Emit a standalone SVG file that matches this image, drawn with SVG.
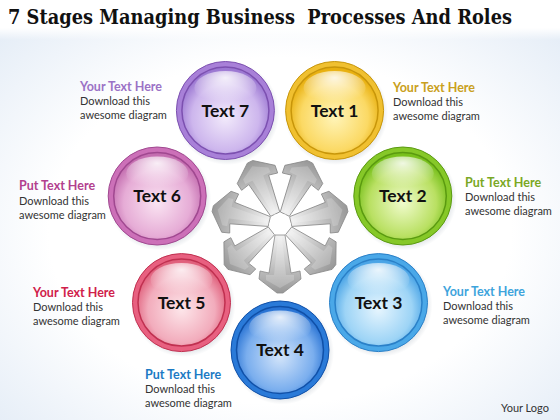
<svg xmlns="http://www.w3.org/2000/svg" xmlns:xlink="http://www.w3.org/1999/xlink" width="560" height="420" viewBox="0 0 560 420">
<defs>
<style>
.title{font-family:"DejaVu Serif","Liberation Serif",serif;font-weight:bold;font-size:16px;fill:#111}
.ct{font-family:Lato,"Liberation Sans",sans-serif;font-weight:bold;font-size:17.5px;fill:#111;text-anchor:middle}
.hd{font-family:Lato,"Liberation Sans",sans-serif;font-weight:bold;font-size:12.5px}
.bd{font-family:Lato,"Liberation Sans",sans-serif;font-size:11px;fill:#333}
.logo{font-family:Lato,"Liberation Sans",sans-serif;font-size:11px;fill:#333}
</style>
<radialGradient id="bg" cx="50%" cy="55%" r="75%">
<stop offset="0.55" stop-color="#ffffff"/>
<stop offset="1" stop-color="#dfe9f5"/>
</radialGradient>
<linearGradient id="titlefade" x1="0" y1="0" x2="0" y2="1">
<stop offset="0.7" stop-color="#ffffff" stop-opacity="1"/>
<stop offset="1" stop-color="#ffffff" stop-opacity="0"/>
</linearGradient>
<radialGradient id="gloss" cx="50%" cy="20%" r="70%">
<stop offset="0" stop-color="#ffffff" stop-opacity="0.85"/>
<stop offset="1" stop-color="#ffffff" stop-opacity="0"/>
</radialGradient>
<radialGradient id="shadow" cx="50%" cy="50%" r="50%">
<stop offset="0.8" stop-color="#8090a0" stop-opacity="0.35"/>
<stop offset="1" stop-color="#8090a0" stop-opacity="0"/>
</radialGradient>
<linearGradient id="arrg" x1="0" y1="0" x2="1" y2="0">
<stop offset="0" stop-color="#f2f2f2"/>
<stop offset="0.5" stop-color="#c6c6c6"/>
<stop offset="1" stop-color="#989898"/>
</linearGradient>
<radialGradient id="g1" cx="50%" cy="58%" r="55%"><stop offset="0" stop-color="#fff4b8"/><stop offset="0.7" stop-color="#fbd964"/><stop offset="1" stop-color="#e8b010"/></radialGradient>
<radialGradient id="g2" cx="50%" cy="58%" r="55%"><stop offset="0" stop-color="#f0fbcc"/><stop offset="0.7" stop-color="#b9e062"/><stop offset="1" stop-color="#78c01c"/></radialGradient>
<radialGradient id="g3" cx="50%" cy="58%" r="55%"><stop offset="0" stop-color="#e6f5fe"/><stop offset="0.7" stop-color="#9dd4f6"/><stop offset="1" stop-color="#4aa4e6"/></radialGradient>
<radialGradient id="g4" cx="50%" cy="58%" r="55%"><stop offset="0" stop-color="#d2e4fa"/><stop offset="0.7" stop-color="#7aaeee"/><stop offset="1" stop-color="#2a74d4"/></radialGradient>
<radialGradient id="g5" cx="50%" cy="58%" r="55%"><stop offset="0" stop-color="#fde6ea"/><stop offset="0.7" stop-color="#f2acbc"/><stop offset="1" stop-color="#e0607c"/></radialGradient>
<radialGradient id="g6" cx="50%" cy="58%" r="55%"><stop offset="0" stop-color="#fae4f2"/><stop offset="0.7" stop-color="#e6acd6"/><stop offset="1" stop-color="#c46eb0"/></radialGradient>
<radialGradient id="g7" cx="50%" cy="58%" r="55%"><stop offset="0" stop-color="#f2eafb"/><stop offset="0.7" stop-color="#cdb6ed"/><stop offset="1" stop-color="#9c78d2"/></radialGradient>
<g id="arr">
<polygon points="11,-5 49,-11 47,-20 55,-21 69,-3 69,3 55,21 47,20 49,11 11,5" fill="url(#arrg)" stroke="#8a8a8a" stroke-width="0.8" stroke-linejoin="round"/>
<polygon points="13,-2 51,-6 51,-14 56,-14 64,0 56,14 51,14 51,6 13,2" fill="#ffffff" fill-opacity="0.2"/>
</g>
</defs>

<rect width="560" height="420" fill="url(#bg)"/>
<rect width="560" height="40" fill="url(#titlefade)"/>
<text class="title" transform="translate(8,24) scale(1,1.22)" x="0" y="0" textLength="504" lengthAdjust="spacingAndGlyphs" xml:space="preserve">7 Stages Managing Business  Processes And Roles</text>

<g id="connectors">
<use xlink:href="#arr" transform="translate(280,224) rotate(90)"/>
<use xlink:href="#arr" transform="translate(280,224) rotate(38.57)"/>
<use xlink:href="#arr" transform="translate(280,224) rotate(-12.86)"/>
<use xlink:href="#arr" transform="translate(280,224) rotate(-64.29)"/>
<use xlink:href="#arr" transform="translate(280,224) rotate(-115.71)"/>
<use xlink:href="#arr" transform="translate(280,224) rotate(-167.14)"/>
<use xlink:href="#arr" transform="translate(280,224) rotate(141.43)"/>
<polygon points="291,224 285.5,233.5 274.5,233.5 269,224 274.5,214.5 285.5,214.5" fill="#ffffff"/>
</g>

<g id="node1">
<ellipse cx="336" cy="113" rx="52" ry="52" fill="url(#shadow)"/>
<circle cx="334.6" cy="110.5" r="49" fill="#f0c030" stroke="#c8960a"/>
<circle cx="334.6" cy="110.5" r="43.5" fill="url(#g1)" stroke="#c8960a" stroke-width="1.5"/>
<ellipse cx="334.6" cy="88" rx="31" ry="17" fill="url(#gloss)"/>
<text class="ct" x="334.6" y="116.5">Text 1</text>
<text class="hd" x="393" y="92" fill="#c9a020">Your Text Here</text>
<text class="bd" x="393" y="106">Download this</text>
<text class="bd" x="393" y="120">awesome diagram</text>
</g>

<g id="node2">
<ellipse cx="404.8" cy="198.5" rx="52" ry="52" fill="url(#shadow)"/>
<circle cx="402.8" cy="196" r="49" fill="#86c828" stroke="#5a9a10"/>
<circle cx="402.8" cy="196" r="43.5" fill="url(#g2)" stroke="#5a9a10" stroke-width="1.5"/>
<ellipse cx="402.8" cy="173.5" rx="31" ry="17" fill="url(#gloss)"/>
<text class="ct" x="402.8" y="202">Text 2</text>
<text class="hd" x="465" y="187" fill="#7aa824">Put Text Here</text>
<text class="bd" x="465" y="201">Download this</text>
<text class="bd" x="465" y="215">awesome diagram</text>
</g>

<g id="node3">
<ellipse cx="380.5" cy="305" rx="52" ry="52" fill="url(#shadow)"/>
<circle cx="378.5" cy="302.6" r="49" fill="#4aa8e8" stroke="#2a80c8"/>
<circle cx="378.5" cy="302.6" r="43.5" fill="url(#g3)" stroke="#2a80c8" stroke-width="1.5"/>
<ellipse cx="378.5" cy="280" rx="31" ry="17" fill="url(#gloss)"/>
<text class="ct" x="378.5" y="308.6">Text 3</text>
<text class="hd" x="443" y="296" fill="#3ea4dc">Your Text Here</text>
<text class="bd" x="443" y="310">Download this</text>
<text class="bd" x="443" y="324">awesome diagram</text>
</g>

<g id="node4">
<ellipse cx="282" cy="352.5" rx="52" ry="52" fill="url(#shadow)"/>
<circle cx="280" cy="350" r="49" fill="#2a7ad8" stroke="#1050a8"/>
<circle cx="280" cy="350" r="43.5" fill="url(#g4)" stroke="#1050a8" stroke-width="1.5"/>
<ellipse cx="280" cy="327.5" rx="31" ry="17" fill="url(#gloss)"/>
<text class="ct" x="280" y="356">Text 4</text>
<text class="hd" x="145" y="379" fill="#1c7ac4">Put Text Here</text>
<text class="bd" x="145" y="393">Download this</text>
<text class="bd" x="145" y="407">awesome diagram</text>
</g>

<g id="node5">
<ellipse cx="183.5" cy="305" rx="52" ry="52" fill="url(#shadow)"/>
<circle cx="181.5" cy="302.6" r="49" fill="#e86080" stroke="#c03050"/>
<circle cx="181.5" cy="302.6" r="43.5" fill="url(#g5)" stroke="#c03050" stroke-width="1.5"/>
<ellipse cx="181.5" cy="280" rx="31" ry="17" fill="url(#gloss)"/>
<text class="ct" x="181.5" y="308.6">Text 5</text>
<text class="hd" x="33" y="297" fill="#d0204a">Your Text Here</text>
<text class="bd" x="33" y="311">Download this</text>
<text class="bd" x="33" y="325">awesome diagram</text>
</g>

<g id="node6">
<ellipse cx="159.2" cy="198.5" rx="52" ry="52" fill="url(#shadow)"/>
<circle cx="157.2" cy="196" r="49" fill="#cc70b8" stroke="#a04890"/>
<circle cx="157.2" cy="196" r="43.5" fill="url(#g6)" stroke="#a04890" stroke-width="1.5"/>
<ellipse cx="157.2" cy="173.5" rx="31" ry="17" fill="url(#gloss)"/>
<text class="ct" x="157.2" y="202">Text 6</text>
<text class="hd" x="19" y="190" fill="#b2408e">Put Text Here</text>
<text class="bd" x="19" y="205">Download this</text>
<text class="bd" x="19" y="219">awesome diagram</text>
</g>

<g id="node7">
<ellipse cx="227.4" cy="113" rx="52" ry="52" fill="url(#shadow)"/>
<circle cx="225.4" cy="110.5" r="49" fill="#a880d8" stroke="#7c50b0"/>
<circle cx="225.4" cy="110.5" r="43.5" fill="url(#g7)" stroke="#7c50b0" stroke-width="1.5"/>
<ellipse cx="225.4" cy="88" rx="31" ry="17" fill="url(#gloss)"/>
<text class="ct" x="225.4" y="116.5">Text 7</text>
<text class="hd" x="80" y="91" fill="#9b72c6">Your Text Here</text>
<text class="bd" x="80" y="105">Download this</text>
<text class="bd" x="80" y="119">awesome diagram</text>
</g>

<text class="logo" x="501" y="412">Your Logo</text>
</svg>
